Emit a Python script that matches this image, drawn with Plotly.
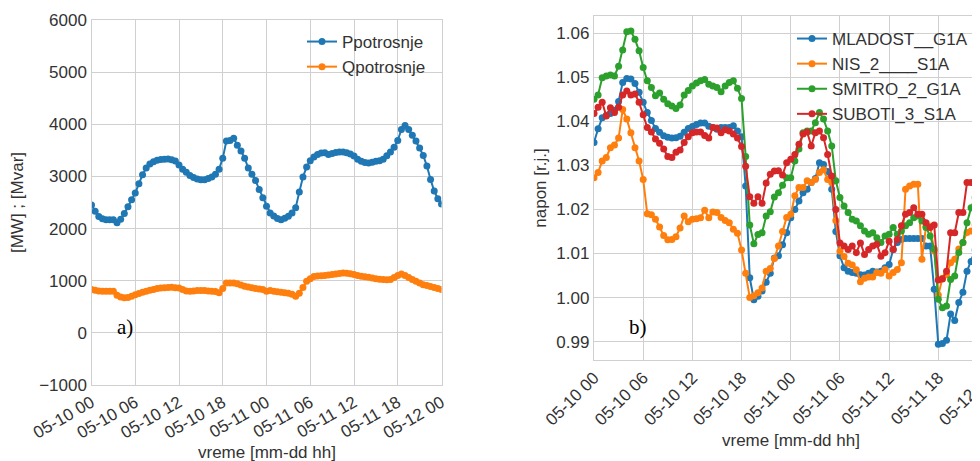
import pandas as pd
import plotly.graph_objects as go

# ---------------- data ----------------
START = "2019-05-10 00:00"
times_left = pd.date_range(START, periods=97, freq="30min")
times_right = pd.date_range(START, periods=96, freq="30min")

p_potrosnje = [
    2450, 2330, 2230, 2190, 2170, 2170, 2170, 2110, 2180, 2290,
    2420, 2554, 2680, 2860, 3030, 3160, 3240, 3280, 3310, 3325,
    3330, 3334, 3320, 3295, 3220, 3140, 3080, 3020, 2980, 2950,
    2937, 2935, 2960, 2990, 3040, 3140, 3350, 3680, 3690, 3730,
    3600, 3490, 3350, 3160, 3040, 2920, 2750, 2590, 2430, 2300,
    2240, 2195, 2170, 2200, 2235, 2300, 2400, 2700, 2990, 3180,
    3300, 3375, 3420, 3450, 3455, 3420, 3440, 3460, 3470, 3470,
    3455, 3430, 3390, 3330, 3290, 3265, 3257, 3270, 3290, 3300,
    3330, 3395, 3470, 3560, 3690, 3900, 3975, 3900, 3790, 3680,
    3545, 3400, 3200, 2940, 2720, 2570, 2470,
]
q_potrosnje = [
    830, 815, 805, 800, 800, 800, 800, 720, 690, 675,
    680, 700, 730, 755, 780, 800, 815, 830, 850, 860,
    865, 870, 875, 865, 860, 830, 805, 800, 805, 810,
    810, 810, 805, 800, 795, 770, 850, 955, 958, 955,
    940, 920, 895, 880, 865, 850, 843, 830, 800, 810,
    800, 790, 780, 770, 760, 740, 701, 760, 870, 990,
    1040, 1080, 1090, 1095, 1100, 1110, 1117, 1130, 1140, 1150,
    1145, 1135, 1120, 1100, 1085, 1075, 1065, 1054, 1040, 1030,
    1021, 1020, 1021, 1060, 1100, 1130, 1100, 1060, 1021, 990,
    955, 925, 910, 890, 870, 850, 830,
]

mladost_g1a = [
    1.0352, 1.0383, 1.0408, 1.0414, 1.0418, 1.0425, 1.0445, 1.0488, 1.0497, 1.0496,
    1.0486, 1.0466, 1.0443, 1.0420, 1.0402, 1.0384, 1.0375, 1.0367, 1.0364, 1.0362,
    1.0363, 1.0366, 1.0375, 1.0384, 1.0388, 1.0393, 1.0396, 1.0396, 1.0389, 1.0386,
    1.0382, 1.0386, 1.0386, 1.0386, 1.0390, 1.0378, 1.0365, 1.0253, 1.0045, 0.9995,
    1.0003, 1.0015, 1.0035, 1.0055, 1.0090, 1.0095, 1.0120, 1.0147, 1.0181, 1.0200,
    1.0219, 1.0238, 1.0246, 1.0261, 1.0270, 1.0306, 1.0302, 1.0286, 1.0246, 1.0150,
    1.0095, 1.0068, 1.0060, 1.0057, 1.0055, 1.0052, 1.0051, 1.0055, 1.0060, 1.0058,
    1.0060, 1.0068, 1.0075, 1.0109, 1.0125, 1.0132, 1.0134, 1.0134, 1.0134, 1.0134,
    1.0134, 1.0117, 1.0117, 1.0019, 0.9894, 0.9896, 0.9903, 0.9963, 0.9948, 0.9989,
    1.0012, 1.0060, 1.0082, 1.0108, 1.0115, 1.0130,
]
nis_2_s1a = [
    1.0272, 1.0284, 1.0310, 1.0318, 1.0340, 1.0346, 1.0362, 1.0427, 1.0405, 1.0374,
    1.0340, 1.0310, 1.0268, 1.0190, 1.0188, 1.0178, 1.0160, 1.0141, 1.0131, 1.0132,
    1.0138, 1.0158, 1.0185, 1.0172, 1.0178, 1.0179, 1.0181, 1.0198, 1.0181, 1.0194,
    1.0193, 1.0182, 1.0175, 1.0170, 1.0155, 1.0146, 1.0108, 1.0055, 1.0000, 1.0004,
    1.0011, 1.0022, 1.0060, 1.0066, 1.0089, 1.0117, 1.0150, 1.0182, 1.0189, 1.0231,
    1.0250, 1.0250, 1.0265, 1.0261, 1.0268, 1.0284, 1.0290, 1.0268, 1.0261, 1.0175,
    1.0105, 1.0093, 1.0078, 1.0074, 1.0063, 1.0036, 1.0044, 1.0047, 1.0047, 1.0057,
    1.0055, 1.0064, 1.0049, 1.0057, 1.0064, 1.0079, 1.0246, 1.0253, 1.0257, 1.0257,
    1.0087, 1.0162, 1.0162, 1.0106, 1.0006, 1.0044, 1.0052, 1.0079, 1.0087, 1.0110,
    1.0125, 1.0148, 1.0151, 1.0165, 1.0180, 1.0185,
]
smitro_2_g1a = [
    1.0450, 1.0460, 1.0499, 1.0503, 1.0505, 1.0503, 1.0525, 1.0562, 1.0603, 1.0605,
    1.0586, 1.0560, 1.0522, 1.0492, 1.0477, 1.0458, 1.0464, 1.0450, 1.0440, 1.0435,
    1.0429, 1.0437, 1.0460, 1.0470, 1.0480, 1.0487, 1.0492, 1.0495, 1.0484, 1.0480,
    1.0477, 1.0467, 1.0480, 1.0488, 1.0492, 1.0475, 1.0452, 1.0320, 1.0165, 1.0122,
    1.0143, 1.0147, 1.0185, 1.0195, 1.0228, 1.0238, 1.0255, 1.0272, 1.0272, 1.0310,
    1.0337, 1.0374, 1.0378, 1.0378, 1.0397, 1.0420, 1.0405, 1.0378, 1.0344, 1.0265,
    1.0227, 1.0208, 1.0193, 1.0178, 1.0174, 1.0163, 1.0151, 1.0144, 1.0147, 1.0136,
    1.0125, 1.0140, 1.0144, 1.0159, 1.0144, 1.0151, 1.0163, 1.0170, 1.0181, 1.0185,
    1.0174, 1.0159, 1.0140, 1.0110, 0.9996, 0.9977, 0.9981, 1.0041, 1.0049, 1.0102,
    1.0125, 1.0170, 1.0204, 1.0227, 1.0246, 1.0260,
]
suboti_3_s1a = [
    1.0418, 1.0432, 1.0443, 1.0412, 1.0431, 1.0420, 1.0432, 1.0460, 1.0469, 1.0460,
    1.0462, 1.0443, 1.0415, 1.0386, 1.0376, 1.0360, 1.0350, 1.0337, 1.0320, 1.0318,
    1.0330, 1.0335, 1.0352, 1.0365, 1.0374, 1.0376, 1.0376, 1.0368, 1.0362, 1.0386,
    1.0385, 1.0374, 1.0381, 1.0378, 1.0371, 1.0362, 1.0343, 1.0298, 1.0229, 1.0214,
    1.0229, 1.0214, 1.0260, 1.0280, 1.0287, 1.0288, 1.0278, 1.0306, 1.0314, 1.0325,
    1.0348, 1.0371, 1.0376, 1.0344, 1.0374, 1.0378, 1.0363, 1.0325, 1.0276, 1.0200,
    1.0124, 1.0117, 1.0109, 1.0117, 1.0102, 1.0124, 1.0098, 1.0109, 1.0117, 1.0121,
    1.0094, 1.0102, 1.0128, 1.0109, 1.0132, 1.0163, 1.0189, 1.0193, 1.0204, 1.0189,
    1.0189, 1.0170, 1.0159, 1.0165, 1.0040, 1.0042, 1.0060, 1.0147, 1.0147, 1.0193,
    1.0193, 1.0261, 1.0261, 1.0261, 1.0300, 1.0320,
]

tick_times = pd.date_range(START, periods=9, freq="6h")
left_y_ticks = [-1000, 0, 1000, 2000, 3000, 4000, 5000, 6000]
right_y_ticks = [0.99, 1.00, 1.01, 1.02, 1.03, 1.04, 1.05, 1.06]

C_BLUE, C_ORANGE, C_GREEN, C_RED = "#1f77b4", "#ff7f0e", "#2ca02c", "#d62728"

# ---------------- figure ----------------
W, H = 980, 461
OFF = 8  # the page places the figure 8 px from the window's top-left corner
FONT = "Liberation Sans, Arial, sans-serif"
SERIF = "Liberation Serif, Times New Roman, serif"
TXT = "#333333"
GRID = "#d0d0d0"

fig = go.Figure()

def add(x, y, name, color, xa, ya, legend):
    fig.add_trace(go.Scatter(
        x=x, y=y, name=name, mode="lines+markers",
        line=dict(color=color, width=2),
        marker=dict(color=color, size=7),
        xaxis=xa, yaxis=ya, legend=legend, cliponaxis=True,
    ))

add(times_left, p_potrosnje, "Ppotrosnje", C_BLUE, "x", "y", "legend")
add(times_left, q_potrosnje, "Qpotrosnje", C_ORANGE, "x", "y", "legend")
add(times_right, mladost_g1a, "MLADOST__G1A", C_BLUE, "x2", "y2", "legend2")
add(times_right, nis_2_s1a, "NIS_2____S1A", C_ORANGE, "x2", "y2", "legend2")
add(times_right, smitro_2_g1a, "SMITRO_2_G1A", C_GREEN, "x2", "y2", "legend2")
add(times_right, suboti_3_s1a, "SUBOTI_3_S1A", C_RED, "x2", "y2", "legend2")

# pixel geometry of the two plot areas (in window pixels)
L_X0, L_X1, L_Y0, L_Y1 = 91.5, 441.5, 20, 385
R_X0, R_X1, R_Y0, R_Y1 = 594, 987.5, 16, 360

def px(xw):
    return min(1.0, (xw - OFF) / W)

def py(yw):
    return 1 - (yw - OFF) / H

axis_common = dict(
    showgrid=True, gridcolor=GRID, gridwidth=1,
    showline=True, linecolor=GRID, linewidth=1.3, mirror=True,
    zeroline=False, ticks="", color=TXT, automargin=False,
    tickfont=dict(family=FONT, size=17, color=TXT),
    title_font=dict(family=FONT, size=17, color=TXT),
)

fig.update_layout(
    width=W, height=H,
    margin=dict(l=0, r=0, t=0, b=0, autoexpand=False),
    paper_bgcolor="white", plot_bgcolor="white",
    font=dict(family=FONT, color=TXT),
    xaxis=dict(
        **axis_common,
        domain=[px(L_X0), px(L_X1)],
        range=[tick_times[0], tick_times[-1]],
        tickvals=list(tick_times), tickformat="%m-%d %H", tickangle=-30,
        ticklabeloverflow="allow",
        anchor="y",
    ),
    yaxis=dict(
        **axis_common,
        domain=[py(L_Y1), py(L_Y0)],
        range=[-1000, 6000], tickvals=left_y_ticks,
        title=dict(text="[MW] ; [Mvar]", standoff=12),
        anchor="x",
    ),
    xaxis2=dict(
        **axis_common,
        domain=[px(R_X0), px(R_X1)],
        range=[tick_times[0], tick_times[-1]],
        tickvals=list(tick_times), tickformat="%m-%d %H", tickangle=-45,
        ticklabeloverflow="allow",
        anchor="y2",
    ),
    yaxis2=dict(
        **axis_common,
        domain=[py(R_Y1), py(R_Y0)],
        range=[0.98584, 1.0639], tickvals=right_y_ticks, tickformat=".2f",
        title=dict(text="napon [r.j.]", standoff=5),
        anchor="x2",
    ),
    legend=dict(
        x=294 / W, y=1 - 16 / H, xanchor="left", yanchor="top",
        bgcolor="rgba(0,0,0,0)", borderwidth=0,
        font=dict(family=FONT, size=17, color=TXT),
        tracegroupgap=0, itemwidth=30,
    ),
    legend2=dict(
        x=784 / W, y=1 - 13 / H, xanchor="left", yanchor="top",
        bgcolor="rgba(0,0,0,0)", borderwidth=0,
        font=dict(family=FONT, size=17, color=TXT),
        tracegroupgap=0, itemwidth=30,
    ),
    showlegend=True,
)

# x-axis titles (placed just under the rotated tick labels)
fig.add_annotation(text="vreme [mm-dd hh]", xref="paper", yref="paper",
                   x=px((L_X0 + L_X1) / 2), y=py(452), showarrow=False,
                   xanchor="center", yanchor="middle",
                   font=dict(family=FONT, size=17, color=TXT))
fig.add_annotation(text="vreme [mm-dd hh]", xref="paper", yref="paper",
                   x=px((R_X0 + R_X1) / 2), y=py(440), showarrow=False,
                   xanchor="center", yanchor="middle",
                   font=dict(family=FONT, size=17, color=TXT))

# panel labels
fig.add_annotation(text="a)", xref="paper", yref="paper",
                   x=px(125), y=py(327), showarrow=False,
                   xanchor="center", yanchor="middle",
                   font=dict(family=SERIF, size=21, color="black"))
fig.add_annotation(text="b)", xref="paper", yref="paper",
                   x=px(638), y=py(327), showarrow=False,
                   xanchor="center", yanchor="middle",
                   font=dict(family=SERIF, size=21, color="black"))

fig.write_html("out.html")
